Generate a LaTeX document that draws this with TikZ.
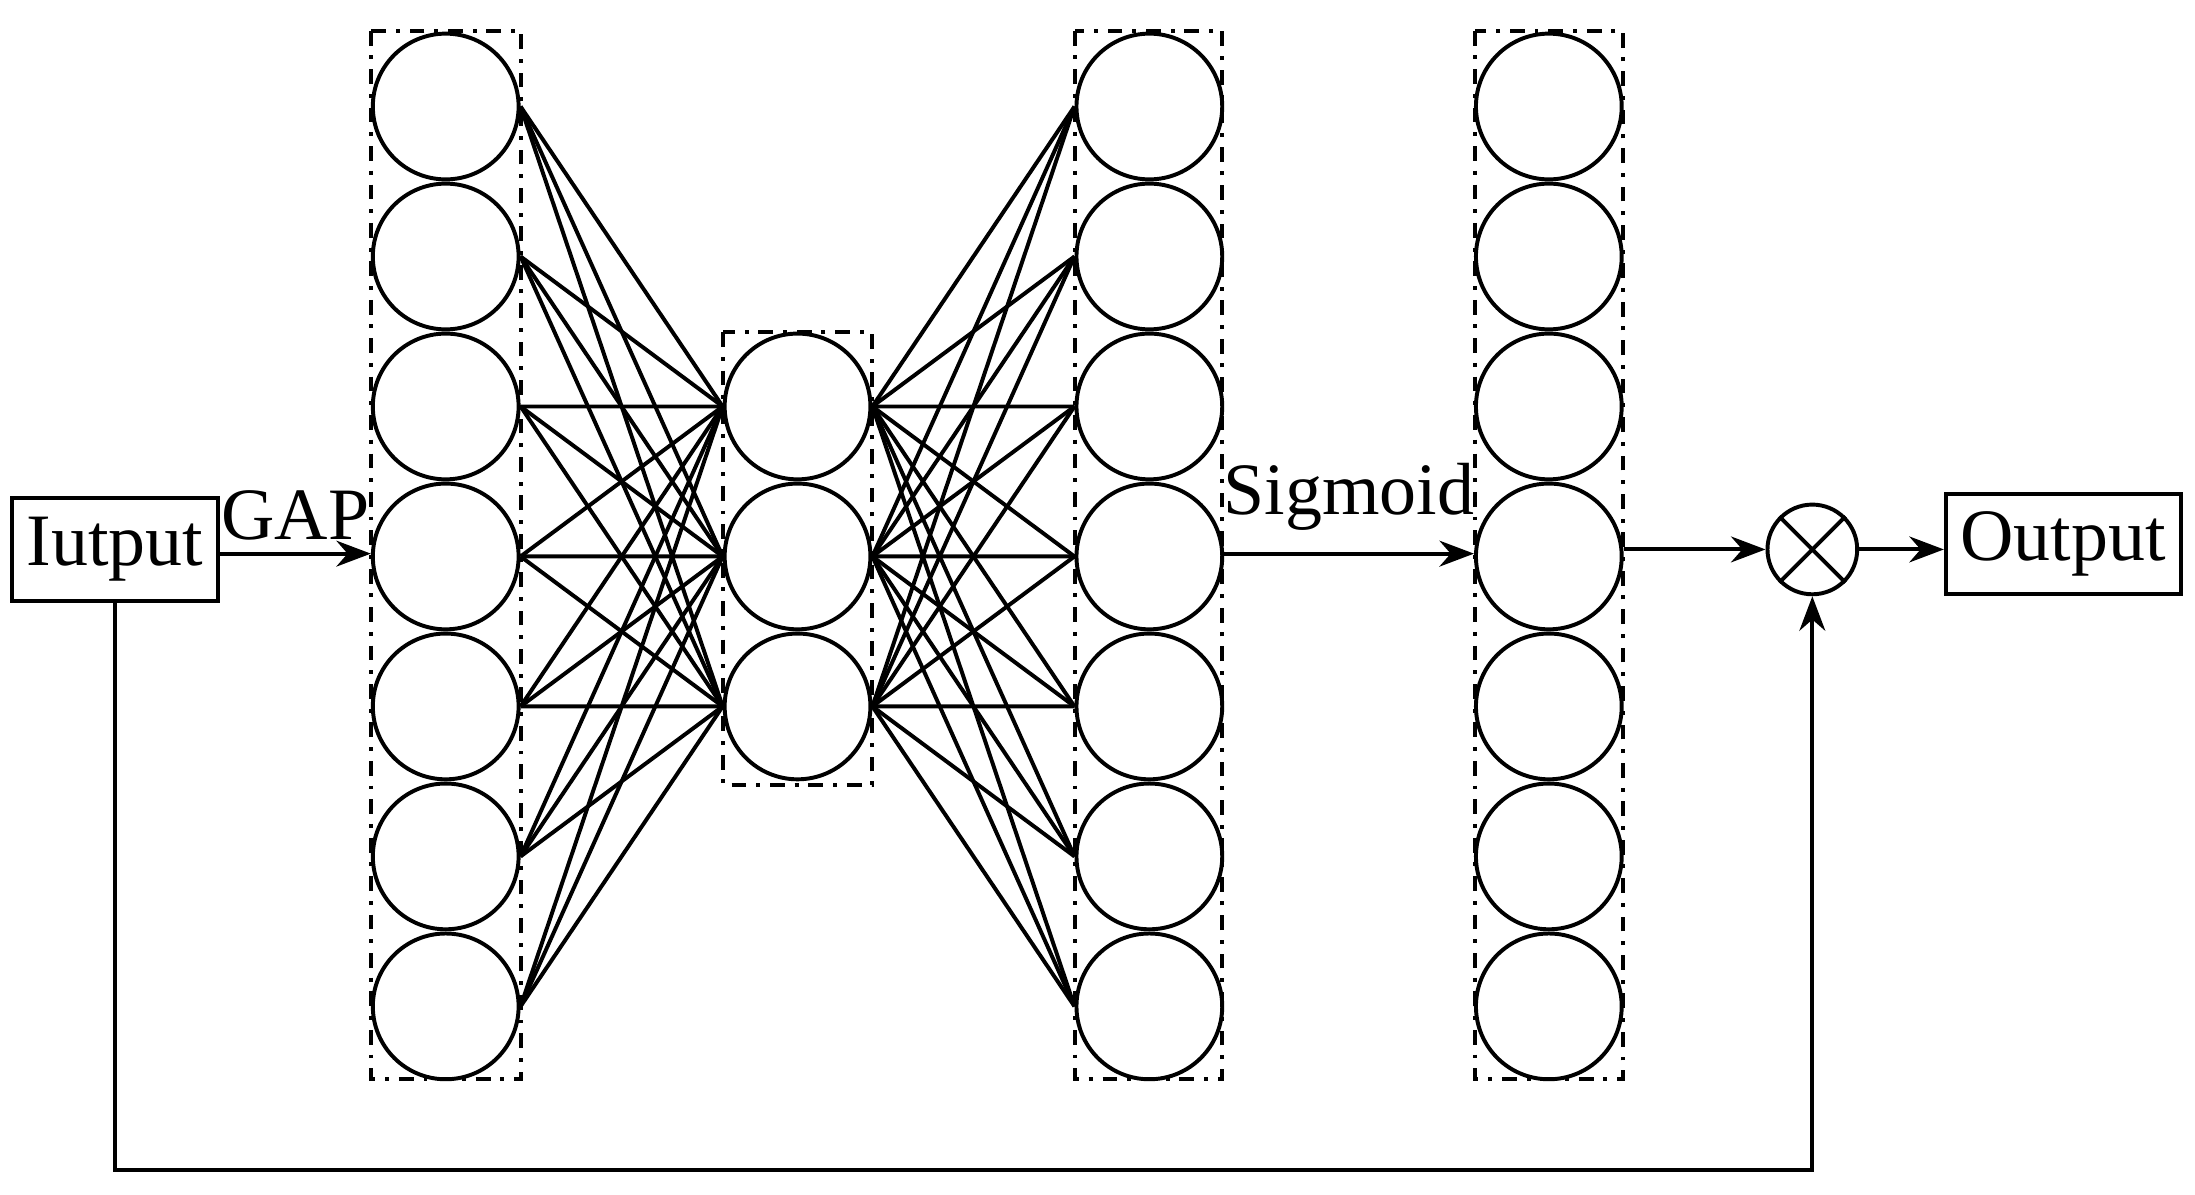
\documentclass[tikz,border=0pt]{standalone}
\usepackage{fontspec}
\setmainfont{Liberation Serif}
\usetikzlibrary{arrows.meta,shapes,positioning}

\begin{document}
\begin{tikzpicture}[
		neuron/.style={
			draw,
			thick,
			circle,
			minimum size=1.04cm,
			inner sep=0pt,
		},
		layer/.style={
			draw,
			dash dot,
			rectangle,
		},
		box/.style={
			draw,
			thick,
			rectangle,
			minimum height=0.74cm,
			inner sep=3pt,
			font=\fontsize{15}{18}\selectfont,
		},
		lbl/.style={font=\fontsize{15}{18}\selectfont},
		every path/.style={thick}
		]
		\useasboundingbox (0,0) rectangle (15.66,-8.52);
		
		% Define layers
		\draw[layer] (2.65,-0.22) rectangle (3.72,-7.70);
		\draw[layer] (5.16,-2.37) rectangle (6.22,-5.60);
		\draw[layer] (7.67,-0.22) rectangle (8.72,-7.70);
		\draw[layer] (10.52,-0.22) rectangle (11.58,-7.70);
		
		% Define nodes
		\foreach \i in {1,...,7} {
			\node[neuron] (a\i) at (3.18,{-0.76-1.07*(\i-1)}) {};
			\node[neuron] (c\i) at (8.20,{-0.76-1.07*(\i-1)}) {};
			\node[neuron] (d\i) at (11.05,{-0.76-1.07*(\i-1)}) {};
		}
		\foreach \j in {1,2,3}
			\node[neuron] (b\j) at (5.69,{-2.90-1.07*(\j-1)}) {};
		
		\node[box, minimum width=1.36cm] (input) at (0.82,-3.92) {Iutput};
		\node[box, minimum width=1.61cm, minimum height=0.71cm] (output) at (14.72,-3.88) {Output};
		\node[draw, thick, circle, minimum size=0.64cm, inner sep=0pt] (mul) at (12.93,-3.92) {};
		\draw (mul.north west) -- (mul.south east) (mul.north east) -- (mul.south west);
		
		% Connect nodes
		\foreach \i in {1,...,7}
			\foreach \j in {1,2,3} {
				\draw (a\i.east) -- (b\j.west);
				\draw (b\j.east) -- (c\i.west);
			}
		\draw[-{Stealth[length=7pt]}] (input.east |- 0,-3.95) -- (a4.west |- 0,-3.95) node[lbl, midway, above=-1pt] {GAP};
		\draw[-{Stealth[length=7pt]}] (c4.east |- 0,-3.95) -- (d4.west |- 0,-3.95) node[lbl, midway, above=1pt] {Sigmoid};
		\draw[-{Stealth[length=7pt]}] (d4.east |- mul) -- (mul.west);
		\draw[-{Stealth[length=7pt]}] (mul.east) -- (output.west |- mul);
		\coordinate (loop) at (0.82,-8.35);
		\draw[-{Stealth[length=7pt]}] (input.south) -- (loop) -- (loop -| mul) -- (mul.south);
		
	\end{tikzpicture}
\end{document}
